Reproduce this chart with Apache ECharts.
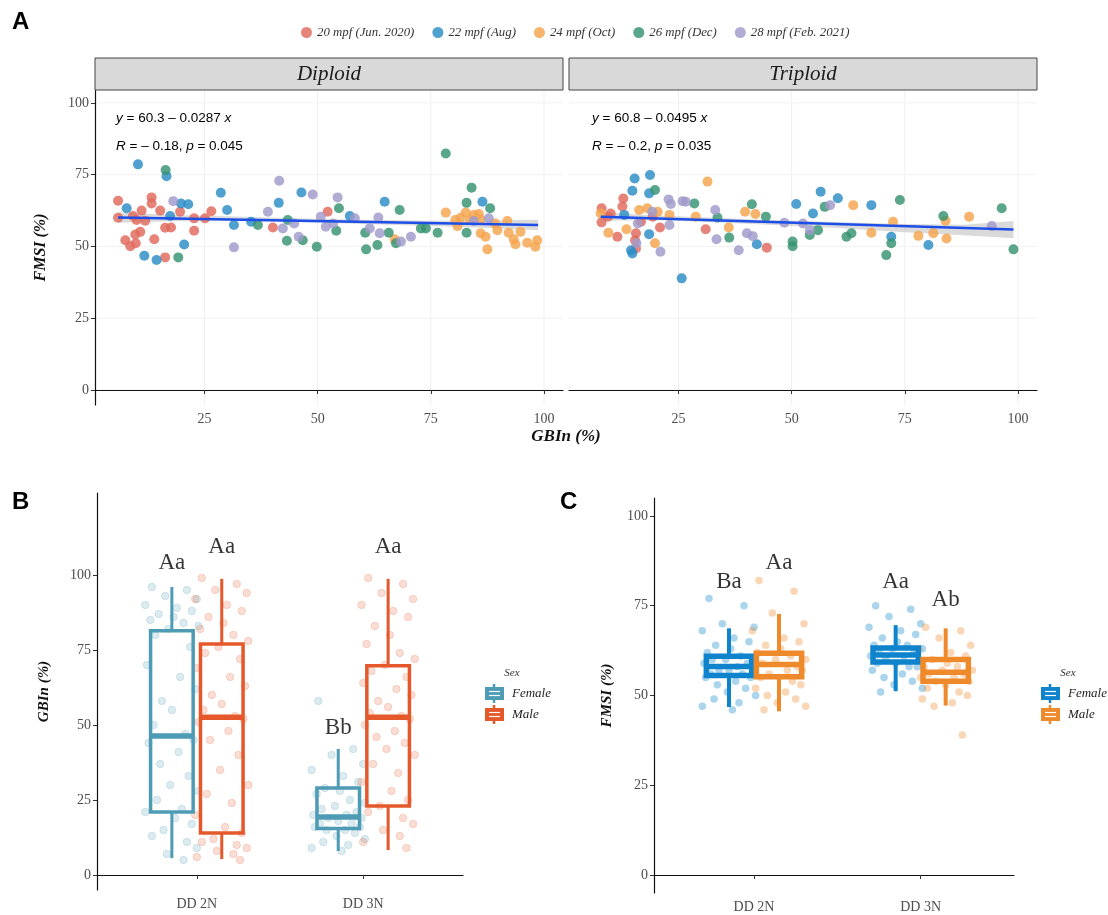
<!DOCTYPE html>
<html><head><meta charset="utf-8">
<script src="https://cdn.jsdelivr.net/npm/echarts@6/dist/echarts.min.js"></script>
<style>html,body{margin:0;padding:0;background:#fff}#c{width:1108px;height:915px}</style>
</head><body><div id="c"></div><script>
// ---------- DATA ----------
const periods = ['20 mpf (Jun. 2020)', '22 mpf (Aug)', '24 mpf (Oct)', '26 mpf (Dec)', '28 mpf (Feb. 2021)'];
const facetNames = ['Diploid', 'Triploid'];
const axisTicks = [0, 25, 50, 75, 100];
const xTicksA = [25, 50, 75, 100];

// Diploid: [GBIn, FMSI]
const dipJun = [[5.9,65.9],[5.9,60.0],[7.5,52.2],[8.6,50.1],[9.8,51.1],[9.7,54.2],[10.8,55.1],[11.1,62.5],[11.9,59.0],[13.3,67.1],[13.3,65.0],[13.9,52.5],[15.2,62.5],[16.3,56.5],[17.6,56.6],[16.3,46.2],[19.6,62.1],[22.7,55.5],[22.7,59.8],[26.5,62.3],[40.1,56.6],[52.2,62.1],[10.0,59.2],[9.2,60.6],[25.1,59.8]];
const dipAug = [[10.3,78.6],[16.6,74.5],[7.8,63.3],[19.8,65.0],[21.4,64.7],[20.5,50.7],[11.7,46.8],[14.4,45.3],[28.6,68.7],[30.0,62.7],[31.5,57.5],[35.3,58.6],[41.4,65.2],[46.4,68.8],[17.4,60.6],[64.8,65.6],[86.4,65.6],[57.1,60.6]];
const dipOct = [[78.3,61.8],[81.6,60.0],[82.7,61.8],[83.7,59.2],[84.5,61.0],[85.6,61.3],[86.0,59.4],[80.9,57.1],[86.0,54.6],[87.1,53.4],[87.5,49.0],[89.7,55.7],[91.9,58.9],[92.2,54.8],[93.3,52.5],[93.7,50.8],[94.8,55.1],[96.3,51.3],[98.1,49.9],[98.5,52.2],[67.0,52.5],[80.4,59.2],[89.2,58.0]];
const dipDec = [[16.4,76.6],[19.2,46.2],[36.8,57.5],[43.2,52.0],[46.7,52.2],[49.8,49.9],[54.7,63.3],[54.1,55.5],[60.5,54.8],[60.7,49.0],[63.2,50.5],[65.7,54.8],[67.3,51.1],[68.1,62.7],[72.8,56.3],[73.9,56.3],[76.5,54.8],[78.3,82.4],[84.0,70.5],[82.9,65.2],[88.1,63.3],[82.9,54.8],[43.4,59.2]];
const dipFeb = [[18.1,65.8],[31.5,49.7],[39.0,62.1],[41.5,72.9],[48.9,68.1],[42.3,56.3],[45.8,53.4],[54.4,67.1],[53.4,58.0],[58.2,59.8],[63.4,60.1],[61.5,56.3],[63.7,54.6],[68.4,51.7],[70.6,53.4],[84.5,58.9],[87.8,59.8],[50.7,60.4],[51.8,56.9],[44.8,58.0]];

// Triploid
const triJun = [[12.8,66.7],[12.6,63.9],[8.0,63.3],[8.0,58.4],[11.5,53.4],[15.6,54.6],[15.4,52.2],[15.6,49.3],[20.9,56.6],[31.0,56.0],[44.5,49.6],[10.0,61.5],[9.4,60.4],[16.7,58.6],[19.3,60.4]];
const triAug = [[15.3,73.7],[18.7,74.9],[14.8,69.4],[18.5,68.5],[14.8,47.6],[18.5,54.3],[25.7,38.9],[42.3,50.8],[51.0,64.8],[54.7,61.5],[56.4,69.1],[60.2,66.8],[67.6,64.4],[72.0,53.4],[80.2,50.5],[14.5,48.7],[13.0,61.0]];
const triOct = [[31.4,72.6],[18.1,63.3],[16.3,62.7],[9.5,54.8],[13.5,56.0],[19.8,51.1],[28.8,60.4],[39.7,62.1],[42.0,61.3],[36.1,56.6],[7.8,61.5],[63.6,64.4],[67.6,54.8],[72.4,58.6],[78.0,53.7],[81.3,54.6],[84.2,52.8],[89.2,60.4],[84.0,59.0],[20.4,62.1],[23.0,61.0]];
const triDec = [[19.8,69.7],[28.5,65.0],[41.2,64.7],[44.3,60.4],[36.2,53.1],[33.6,60.1],[50.2,51.7],[50.2,50.1],[57.3,63.8],[55.8,55.7],[62.1,53.4],[63.2,54.6],[73.9,66.2],[72.0,51.1],[70.9,47.0],[83.5,60.6],[96.4,63.3],[99.0,49.0],[54.0,54.0]];
const triFeb = [[22.8,66.4],[23.3,64.8],[25.9,65.8],[26.6,65.6],[33.1,62.7],[33.4,52.5],[40.1,54.6],[41.4,53.6],[38.3,48.7],[21.0,48.2],[15.7,51.1],[23.0,57.5],[48.4,58.3],[19.2,62.1],[58.5,64.4],[54.0,55.7],[52.5,58.0],[94.2,57.1],[16.0,58.0]];

// regression fits (endpoints) and confidence band [x, lower, upper]
const dipFit = [[5.9, 60.1], [98.7, 57.5]];
const triFit = [[7.8, 60.4], [99.0, 55.9]];
const dipBand = [[5.9,58.3,61.9],[18,58.8,61.0],[30,58.9,60.5],[45,58.5,59.8],[60,57.8,59.3],[75,57.1,59.0],[88,56.4,59.1],[98.7,55.7,59.3]];
const triBand = [[7.8,58.9,61.9],[18,59.2,61.0],[30,58.6,60.2],[45,57.6,59.2],[60,56.4,58.5],[75,55.0,57.8],[88,53.9,57.6],[99.0,52.9,58.9]];
const eqDip = ['y = 60.3 – 0.0287 x', 'R = – 0.18, p = 0.045'];
const eqTri = ['y = 60.8 – 0.0495 x', 'R = – 0.2, p = 0.035'];

// Box plots: groups
const groups = ['DD 2N', 'DD 3N'];
const sexes = ['Female', 'Male'];
// [min, Q1, median, Q3, max] per group
const gbinFemaleBox = [[5.6, 21.0, 46.3, 81.4, 96.0], [8.0, 15.5, 19.3, 29.0, 42.0]];
const gbinMaleBox   = [[5.3, 14.0, 52.6, 77.0, 98.7], [8.3, 23.0, 52.6, 69.7, 98.7]];
const fmsiFemaleBox = [[46.8, 55.6, 58.1, 60.9, 68.7], [51.2, 59.3, 61.3, 63.2, 69.6]];
const fmsiMaleBox   = [[45.6, 55.2, 58.6, 61.8, 72.7], [47.2, 54.0, 56.5, 60.0, 68.7]];

// jitter offsets (category units) for individual points
const jitter = [-0.12,0.09,-0.04,0.15,-0.16,0.03,0.12,-0.08,0.01,-0.13,0.07,0.16,-0.02,-0.10,0.11,-0.15,0.05,0.14,-0.06,0.00,-0.11,0.08,0.13,-0.14,0.04,-0.07,0.10,-0.01,0.16,-0.09,0.06,-0.16,0.02,0.12,-0.05,-0.12,0.09,0.15,-0.03,0.07,-0.15,0.11];
// individual values
const gbinF2N = [96,95,93,92,90,89,88,87,86,85,84,83,82,80,76,70,66,62,58,55,50,47,45,44,41,37,33,30,28,25,22,21,19,17,15,13,11,9,7,5];
const gbinM2N = [99,97,95,94,92,90,88,86,84,82,80,78,76,74,72,69,66,63,60,57,55,53,52,51,48,45,40,35,30,27,24,20,16,14,12,11,10,9,8,7,6,5];
const gbinF3N = [58,42,40,37,35,33,31,29,28,27,25,24,23,22,21,20,20,19,19,18,17,17,16,16,15,15,14,13,12,11,10,9,8];
const gbinM3N = [99,97,94,92,90,88,86,83,80,77,74,72,70,68,66,64,62,60,58,56,54,53,52,50,48,46,44,42,40,37,34,31,28,25,23,21,19,17,15,13,11,9];
const fmsiF2N = [77,75,70,69,68,66,65,64,63,62,61,61,60,60,59,59,58,58,57,57,56,56,55,55,54,53,52,51,50,49,48,47,46];
const fmsiM2N = [82,79,73,70,68,66,65,64,63,62,61,60,60,59,58,58,57,57,56,55,55,54,53,52,51,50,49,48,47,46];
const fmsiF3N = [75,74,72,70,69,68,67,66,65,64,64,63,63,62,62,61,61,60,60,59,59,58,58,57,56,55,54,53,52,51];
const fmsiM3N = [69,68,66,64,63,62,61,60,59,58,58,57,57,56,56,55,55,54,54,53,52,51,50,49,48,47,39];

// significance letters [text, group, sexIndex, y]
const gbinLetters = [['Aa',1,0,103.9],['Aa',1,1,109.2],['Bb',2,0,48.9],['Aa',2,1,109.2]];
const fmsiLetters = [['Ba',1,0,81.7],['Aa',1,1,86.8],['Aa',2,0,81.7],['Ab',2,1,76.6]];

// ---------- STYLE ----------
const SERIF = '"Liberation Serif","Times New Roman",serif';
const SANS = '"Liberation Sans",Arial,sans-serif';
const periodColors = ['#E0695B', '#2B8CC6', '#F5A44D', '#369270', '#A09ACA'];
const bColors = ['#4E9BB5', '#E4582B'];
const cColors = ['#0F84CC', '#EE8A2B'];
const dodge = 0.15;

const chart = echarts.init(document.getElementById('c'));

function valAxisY(grid, min, max, name, gap, showLine) {
  return {
    type: 'value', gridIndex: grid, min: min, max: max,
    name: name, nameLocation: 'middle', nameGap: gap, nameRotate: 90,
    nameTextStyle: {fontFamily: SERIF, fontStyle: 'italic', fontWeight: 'bold', fontSize: 16, color: '#111'},
    axisLine: {show: showLine, lineStyle: {color: '#111', width: 1.2}},
    axisTick: {show: showLine, length: 4, lineStyle: {color: '#333'}, customValues: axisTicks},
    axisLabel: {show: showLine, customValues: axisTicks, fontFamily: SERIF, fontSize: 14, color: '#4d4d4d', margin: 6},
    splitLine: {show: false}
  };
}

function xAxisA(g) {
  return {type:'value', gridIndex:g, min:0.8, max:104.2,
   axisLine:{lineStyle:{color:'#111',width:1.2}}, axisTick:{length:4, lineStyle:{color:'#333'}, customValues:xTicksA},
   axisLabel:{customValues:xTicksA, fontFamily:SERIF, fontSize:14, color:'#4d4d4d', margin:7},
   splitLine:{show:false}};
}
function xAxisBox(g, max) {
  return {type:'value', gridIndex:g, min:0.4, max:max,
   axisLine:{lineStyle:{color:'#111',width:1.2}}, axisTick:{length:4, lineStyle:{color:'#333'}, customValues:[1,2]},
   axisLabel:{customValues:[1,2], formatter:v => groups[Math.round(v)-1], fontFamily:SERIF, fontSize:14, color:'#4d4d4d', margin:7},
   splitLine:{show:false}};
}
const xAxes = [xAxisA(0), xAxisA(1), xAxisBox(2, 2.6), xAxisBox(3, 2.56)];
const yAxes = [
  valAxisY(0, -5.2, 104.5, 'FMSI (%)', 46, true),
  valAxisY(1, -5.2, 104.5, '', 0, false),
  valAxisY(2, -5, 127.3, 'GBIn (%)', 45, true),
  valAxisY(3, -5, 105, 'FMSI (%)', 39, true)
];
yAxes[2].nameTextStyle.fontSize = 15;
yAxes[3].nameTextStyle.fontSize = 15;

const series = [];
// faint grid for panel A
function gridRender(params, api) {
  const children = [];
  xTicksA.forEach(v => {
    const a = api.coord([v, -5.2]), b = api.coord([v, 104.5]);
    children.push({type:'line', shape:{x1:a[0],y1:a[1],x2:b[0],y2:b[1]}, style:{stroke:'#efefef', lineWidth:1}});
  });
  axisTicks.forEach(v => {
    const a = api.coord([0.8, v]), b = api.coord([104.2, v]);
    children.push({type:'line', shape:{x1:a[0],y1:a[1],x2:b[0],y2:b[1]}, style:{stroke:'#f2f2f2', lineWidth:1}});
  });
  return {type:'group', children};
}
[0,1].forEach(g => series.push({type:'custom', xAxisIndex:g, yAxisIndex:g, silent:true, z:0, renderItem:gridRender, data:[[50,50]]}));

// CI bands
function bandRender(band) {
  return function(params, api) {
    const pts = band.map(b => api.coord([b[0], b[2]])).concat(band.slice().reverse().map(b => api.coord([b[0], b[1]])));
    return {type:'polygon', shape:{points:pts}, style:{fill:'rgba(150,150,150,0.35)'}};
  };
}
series.push({type:'custom', xAxisIndex:0, yAxisIndex:0, silent:true, z:1, renderItem:bandRender(dipBand), data:[[50,50]]});
series.push({type:'custom', xAxisIndex:1, yAxisIndex:1, silent:true, z:1, renderItem:bandRender(triBand), data:[[50,50]]});

const dipSets = [dipJun, dipAug, dipOct, dipDec, dipFeb];
const triSets = [triJun, triAug, triOct, triDec, triFeb];
[dipSets, triSets].forEach((sets, g) => {
  sets.forEach((d, i) => series.push({
    type:'scatter', name:periods[i], xAxisIndex:g, yAxisIndex:g, data:d, symbolSize:10, z:2,
    itemStyle:{color:periodColors[i], opacity:0.82}
  }));
});
series.push({type:'line', xAxisIndex:0, yAxisIndex:0, data:dipFit, symbol:'none', z:3, lineStyle:{color:'#1D4FE8', width:2.5}});
series.push({type:'line', xAxisIndex:1, yAxisIndex:1, data:triFit, symbol:'none', z:3, lineStyle:{color:'#1D4FE8', width:2.5}});

// box plots
function boxRender(lw, mw, ww, hw) {
  return function(params, api) {
    const x = api.value(0), lo = api.value(1), q1 = api.value(2), med = api.value(3), q3 = api.value(4), hi = api.value(5);
    const c = api.visual('color');
    const tl = api.coord([x - hw, q3]), br = api.coord([x + hw, q1]);
    const m1 = api.coord([x - hw, med]), m2 = api.coord([x + hw, med]);
    const pHi = api.coord([x, hi]), pQ3 = api.coord([x, q3]), pQ1 = api.coord([x, q1]), pLo = api.coord([x, lo]);
    return {type:'group', children:[
      {type:'line', shape:{x1:pHi[0],y1:pHi[1],x2:pQ3[0],y2:pQ3[1]}, style:{stroke:c, lineWidth:ww}},
      {type:'line', shape:{x1:pQ1[0],y1:pQ1[1],x2:pLo[0],y2:pLo[1]}, style:{stroke:c, lineWidth:ww}},
      {type:'rect', shape:{x:tl[0], y:tl[1], width:br[0]-tl[0], height:br[1]-tl[1]}, style:{fill:'none', stroke:c, lineWidth:lw}},
      {type:'line', shape:{x1:m1[0],y1:m1[1],x2:m2[0],y2:m2[1]}, style:{stroke:c, lineWidth:mw}}
    ]};
  };
}
function boxData(stats, sexIdx) {
  return stats.map((s, gi) => [gi + 1 + (sexIdx === 0 ? -dodge : dodge)].concat(s));
}
function jitterData(vals, group, sexIdx) {
  const base = group + (sexIdx === 0 ? -dodge : dodge);
  return vals.map((v, i) => [base + jitter[i % jitter.length], v]);
}
[[gbinF2N,1,0],[gbinM2N,1,1],[gbinF3N,2,0],[gbinM3N,2,1]].forEach(([vals,g,s]) => series.push({
  type:'scatter', xAxisIndex:2, yAxisIndex:2, data:jitterData(vals,g,s), symbolSize:7.5, z:2, silent:true,
  itemStyle:{color:bColors[s], opacity:0.2, borderColor:bColors[s], borderWidth:1}
}));
[[fmsiF2N,1,0],[fmsiM2N,1,1],[fmsiF3N,2,0],[fmsiM3N,2,1]].forEach(([vals,g,s]) => series.push({
  type:'scatter', xAxisIndex:3, yAxisIndex:3, data:jitterData(vals,g,s), symbolSize:7.5, z:2, silent:true,
  itemStyle:{color:cColors[s], opacity:0.35}
}));
series.push({type:'custom', xAxisIndex:2, yAxisIndex:2, z:3, itemStyle:{color:bColors[0]}, renderItem:boxRender(3.5,5.5,3,0.128), encode:{x:0,y:[1,2,3,4,5]}, data:boxData(gbinFemaleBox,0)});
series.push({type:'custom', xAxisIndex:2, yAxisIndex:2, z:3, itemStyle:{color:bColors[1]}, renderItem:boxRender(3.5,5.5,3,0.128), encode:{x:0,y:[1,2,3,4,5]}, data:boxData(gbinMaleBox,1)});
series.push({type:'custom', xAxisIndex:3, yAxisIndex:3, z:3, itemStyle:{color:cColors[0]}, renderItem:boxRender(5.5,5.5,4,0.136), encode:{x:0,y:[1,2,3,4,5]}, data:boxData(fmsiFemaleBox,0)});
series.push({type:'custom', xAxisIndex:3, yAxisIndex:3, z:3, itemStyle:{color:cColors[1]}, renderItem:boxRender(5.5,5.5,4,0.136), encode:{x:0,y:[1,2,3,4,5]}, data:boxData(fmsiMaleBox,1)});

function letterSeries(letters, axis) {
  return {type:'scatter', xAxisIndex:axis, yAxisIndex:axis, z:5, symbolSize:1, silent:true,
    itemStyle:{color:'rgba(0,0,0,0)'},
    label:{show:true, position:'inside', fontFamily:SERIF, fontSize:23, color:'#000'},
    data: letters.map(l => ({value:[l[1] + (l[2] === 0 ? -dodge : dodge), l[3]], label:{formatter:l[0]}}))};
}
series.push(letterSeries(gbinLetters, 2));
series.push(letterSeries(fmsiLetters, 3));

// ---------- GRAPHICS (strips, labels, legends) ----------
function strip(x, w, text) {
  return [
    {type:'rect', shape:{x:x, y:58, width:w, height:32}, style:{fill:'#d9d9d9', stroke:'#444', lineWidth:1}, z:10},
    {type:'text', x:x + w/2, y:74, style:{text:text, font:'italic 21px ' + SERIF, fill:'#1a1a1a', align:'center', verticalAlign:'middle'}, z:11}
  ];
}
function eq(x, lines) {
  const rich = {i:{fontStyle:'italic', fontFamily:SANS, fontSize:13.5, fill:'#000'}, n:{fontFamily:SANS, fontSize:13.5, fill:'#000'}};
  const fmt = s => s.replace(/^([yR]) /, '{i|$1}{n| ').replace(/ x$/, ' }{i|x}').replace(/, p =/, ', }{i|p}{n| =');
  const wrap = s => { let t = fmt(s); if (!t.endsWith('}')) t += '}'; return t; };
  return [
    {type:'text', x:x, y:118, style:{text:wrap(lines[0]), rich:rich, verticalAlign:'middle'}, z:11},
    {type:'text', x:x, y:146, style:{text:wrap(lines[1]), rich:rich, verticalAlign:'middle'}, z:11}
  ];
}
function keyGlyph(x, y, color) {
  return [
    {type:'line', shape:{x1:x+9, y1:y-3, x2:x+9, y2:y}, style:{stroke:color, lineWidth:2.5}, z:11},
    {type:'line', shape:{x1:x+9, y1:y+13, x2:x+9, y2:y+16}, style:{stroke:color, lineWidth:2.5}, z:11},
    {type:'rect', shape:{x:x, y:y, width:19, height:13}, style:{fill:color}, z:11},
    {type:'line', shape:{x1:x+4, y1:y+4.5, x2:x+15, y2:y+4.5}, style:{stroke:'#fff', lineWidth:1.2}, z:12},
    {type:'line', shape:{x1:x+4, y1:y+8.5, x2:x+15, y2:y+8.5}, style:{stroke:'#fff', lineWidth:1.2}, z:12}
  ];
}
function sexLegend(x, colors) {
  const els = [{type:'text', x:x + 27, y:673, style:{text:'Sex', font:'italic 11px ' + SERIF, fill:'#333', align:'center', verticalAlign:'middle'}, z:11}];
  sexes.forEach((s, i) => {
    const y = 687 + i * 21;
    keyGlyph(x, y, colors[i]).forEach(e => els.push(e));
    els.push({type:'text', x:x + 27, y:y + 7, style:{text:s, font:'italic 13px ' + SERIF, fill:'#222', verticalAlign:'middle'}, z:11});
  });
  return els;
}
const graphics = [].concat(
  strip(95, 468, facetNames[0]), strip(569, 468, facetNames[1]),
  eq(116, eqDip), eq(592, eqTri),
  [
    {type:'text', x:12, y:22, style:{text:'A', font:'bold 24px ' + SANS, fill:'#000', verticalAlign:'middle'}},
    {type:'text', x:12, y:502, style:{text:'B', font:'bold 24px ' + SANS, fill:'#000', verticalAlign:'middle'}},
    {type:'text', x:560, y:502, style:{text:'C', font:'bold 24px ' + SANS, fill:'#000', verticalAlign:'middle'}},
    {type:'text', x:566, y:437, style:{text:'GBIn (%)', font:'italic bold 17px ' + SERIF, fill:'#111', align:'center', verticalAlign:'middle'}}
  ],
  sexLegend(485, bColors), sexLegend(1041, cColors)
);

chart.setOption({
  backgroundColor: '#fff',
  animation: false,
  legend: {data: periods.map(p => ({name:p, icon:'circle'})), left: 296, top: 21, itemWidth: 11, itemHeight: 11, itemGap: 18,
    textStyle: {fontFamily: SERIF, fontStyle: 'italic', fontSize: 12.8, color: '#333'}},
  grid: [
    {left:95, top:90, width:468, height:315},
    {left:569, top:90, width:468, height:315},
    {left:97, top:493, width:366, height:397},
    {left:654, top:498, width:360, height:395}
  ],
  xAxis: xAxes, yAxis: yAxes, series: series, graphic: graphics
});
</script></body></html>
